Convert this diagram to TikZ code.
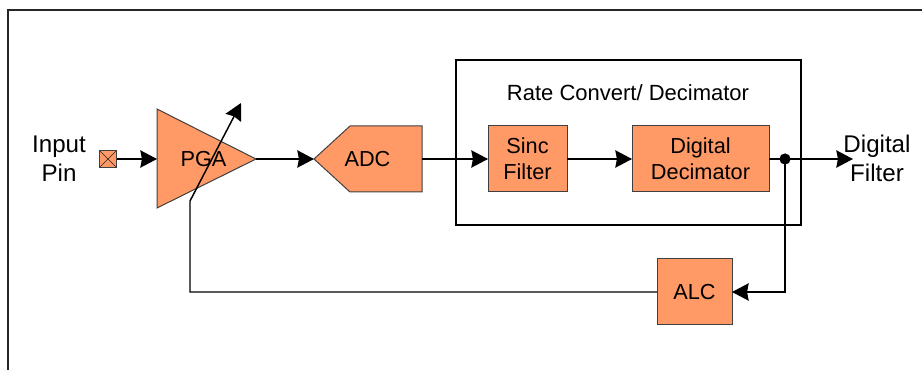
\documentclass[tikz,border=0pt]{standalone}
\usepackage{fontspec}
\setmainfont{Liberation Sans}
\usetikzlibrary{arrows.meta}
\definecolor{blockorange}{HTML}{FF9966}
\tikzset{
  wire/.style={line width=1.1pt,black},
  flow/.style={wire,-{Stealth[inset=1.2pt,length=12.5pt,width=13pt]}},
  shapeline/.style={draw=black!75,line width=.75pt,fill=blockorange},
  block/.style={shapeline,inner sep=0pt,outer sep=0pt,align=center,font=\fontsize{16.3}{19.4}\selectfont},
  label/.style={inner sep=0pt,align=center,font=\fontsize{18.1}{21.5}\selectfont},
}
\begin{document}
\begin{tikzpicture}[x=.75pt,y=-.75pt]
    \useasboundingbox (0,0) rectangle (922,370);

    % outer frame, open at the right and at the bottom
    \draw[line width=1.1pt,black!85] (8,370) -- (8,10) -- (922,10);

    % box round the rate converter
    \node (rateconv) [draw,line width=1.3pt,inner sep=0pt,minimum width=259pt,minimum height=123.75pt] at (628.5,142.5) {};
    \node (ratetext) [inner sep=0pt,font=\fontsize{16.5}{19.4}\selectfont] at (628,93) {Rate Convert/ Decimator};

    % amplifier and converter
    \coordinate (pgain) at (157,159);
    \coordinate (pgaout) at (256,159);
    \coordinate (adctip) at (314,159);
    \draw[shapeline] (157,109) -- (pgaout) -- (157,208) -- cycle;
    \draw[shapeline] (adctip) -- (350,126) -- (422,126) -- (422,192) -- (350,192) -- cycle;
    \coordinate (adcout) at (422,159);
    \node (pga) [inner sep=0pt,font=\fontsize{16.3}{19.4}\selectfont] at (203.5,159) {PGA};
    \node (adc) [inner sep=0pt,font=\fontsize{16.3}{19.4}\selectfont] at (367.5,159) {ADC};

    % plain blocks
    \node (sinc) [block,minimum width=59.25pt,minimum height=49.5pt] at (527.5,159) {Sinc\\Filter};
    \node (decim) [block,minimum width=102.75pt,minimum height=49.5pt] at (700.5,159) {Digital\\Decimator};
    \node (alc) [block,minimum width=56.25pt,minimum height=49.5pt] at (694.5,292) {ALC};

    % input pin with its cross
    \node (pin) [shapeline,inner sep=0pt,minimum size=12.75pt,
      path picture={
        \draw[black!85,line width=.5pt] (path picture bounding box.north west) -- (path picture bounding box.south east);
        \draw[black!85,line width=.5pt] (path picture bounding box.north east) -- (path picture bounding box.south west);
      }] at (108,159) {};

    % texts at both ends
    \node (inputtext) [label] at (59,158.5) {Input\\Pin};
    \node (outputtext) [label] at (877,158.5) {Digital\\Filter};

    % signal path
    \coordinate (outend) at (853,159);
    \coordinate (split) at (785,159);
    \coordinate (gainfoot) at (190,292);
    \coordinate (gainbend) at (190,201);
    \coordinate (gaintip) at (241,103);
    \draw[flow] (pin) -- (pgain);
    \draw[flow] (pgaout) -- (adctip);
    \draw[flow] (adcout) -- (sinc);
    \draw[flow] (sinc) -- (decim);
    \draw[flow] (decim) -- (outend);
    \fill (split) circle (4.2pt);
    \draw[flow] (split) |- (alc.east);

    % feedback to the gain arrow
    \draw[flow] (alc.west) -- (gainfoot) -- (gainbend) -- (gaintip);

\end{tikzpicture}
\end{document}
